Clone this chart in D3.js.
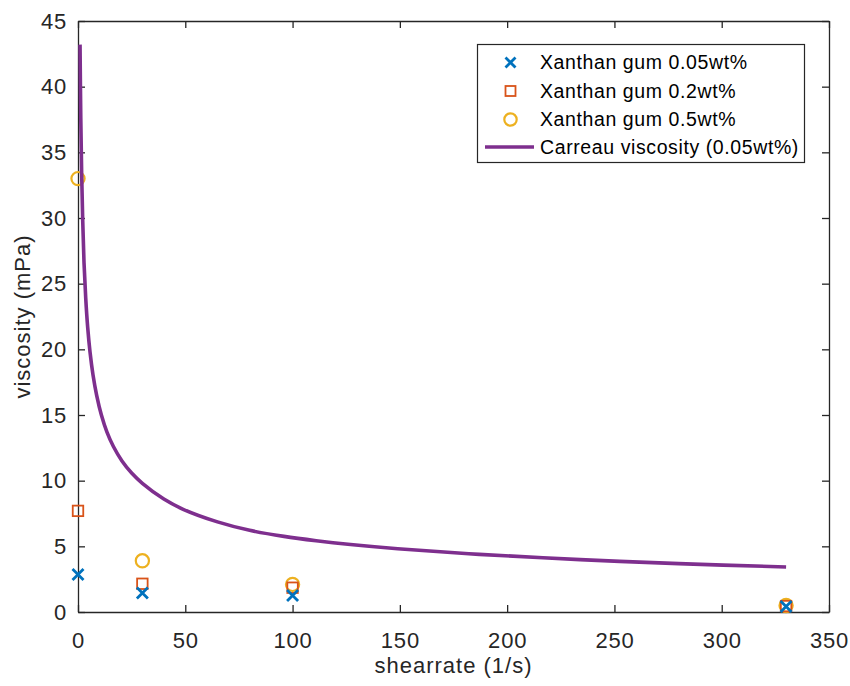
<!DOCTYPE html>
<html>
<head>
<meta charset="utf-8">
<script src="https://cdn.jsdelivr.net/npm/d3@7"></script>
<style>
  html, body { margin: 0; padding: 0; background: #fff; }
  svg { display: block; font-family: "Liberation Sans", Arial, Helvetica, sans-serif; }
</style>
</head>
<body>
<svg id="chart" width="850" height="686"></svg>
<script>
// Measured viscosity at each shear rate (1/s), per xanthan gum concentration
const shearRates = [0, 30, 100, 330];
const visc005 = [2.85, 1.45, 1.25, 0.42];
const visc02  = [7.7, 2.15, 1.85, 0.45];
const visc05  = [33.0, 3.9, 2.1, 0.5];

// Carreau model curve for 0.05wt%: shear rate and viscosity pairs
const carreauRate = [0.95, 1.3, 1.7, 2.2, 2.8, 3.6, 4.5, 5.6, 7.0, 8.7, 10.9, 13.5, 16.5, 20.5, 25, 30, 40, 49, 65, 80, 96, 111, 127, 149, 187, 234, 280, 330];
const carreauVisc = [43.2, 37.6, 33.4, 29.8, 26.6, 23.9, 21.7, 19.8, 18.05, 16.5, 15.0, 13.7, 12.6, 11.5, 10.58, 9.8, 8.6, 7.82, 6.86, 6.22, 5.76, 5.43, 5.14, 4.82, 4.39, 3.99, 3.68, 3.43];

// Axis ticks
const xTicks = [0, 50, 100, 150, 200, 250, 300, 350];
const yTicks = [0, 5, 10, 15, 20, 25, 30, 35, 40, 45];

const seriesNames = ["Xanthan gum 0.05wt%", "Xanthan gum 0.2wt%", "Xanthan gum 0.5wt%", "Carreau viscosity (0.05wt%)"];
const colors = { blue: "#0072BD", orange: "#D95319", yellow: "#EDB120", purple: "#7E2F8E" };
const axisColor = "#262626";

const svg = d3.select("#chart");
const plot = { left: 78, right: 829, top: 21, bottom: 612 };

const x = d3.scaleLinear().domain([0, 350]).range([plot.left, plot.right]);
const y = d3.scaleLinear().domain([0, 45]).range([plot.bottom, plot.top]);

// Axes with inward ticks on all four sides
const tickLen = 7;
function styleAxis(g) {
  g.selectAll("path.domain").attr("stroke", axisColor).attr("stroke-width", 1.3);
  g.selectAll(".tick line").attr("stroke", axisColor).attr("stroke-width", 1.3);
  g.selectAll(".tick text").attr("fill", axisColor)
    .style("font-size", "22px").style("letter-spacing", "0.8px");
}

svg.append("g")
  .attr("transform", `translate(0,${plot.bottom})`)
  .call(d3.axisBottom(x).tickValues(xTicks).tickSize(-tickLen).tickSizeOuter(0).tickPadding(20).tickFormat(d3.format("d")))
  .call(styleAxis);

svg.append("g")
  .attr("transform", `translate(0,${plot.top})`)
  .call(d3.axisTop(x).tickValues(xTicks).tickSize(-tickLen).tickSizeOuter(0).tickFormat(""))
  .call(styleAxis);

svg.append("g")
  .attr("transform", `translate(${plot.left},0)`)
  .call(d3.axisLeft(y).tickValues(yTicks).tickSize(-tickLen).tickSizeOuter(0).tickPadding(11).tickFormat(d3.format("d")))
  .call(styleAxis);

svg.append("g")
  .attr("transform", `translate(${plot.right},0)`)
  .call(d3.axisRight(y).tickValues(yTicks).tickSize(-tickLen).tickSizeOuter(0).tickFormat(""))
  .call(styleAxis);

// Axis titles
svg.append("text")
  .attr("x", (plot.left + plot.right) / 2)
  .attr("y", 673)
  .attr("text-anchor", "middle")
  .attr("fill", axisColor)
  .style("font-size", "22px").style("letter-spacing", "1px")
  .text("shearrate (1/s)");

svg.append("text")
  .attr("transform", `translate(30,${(plot.top + plot.bottom) / 2}) rotate(-90)`)
  .attr("text-anchor", "middle")
  .attr("fill", axisColor)
  .style("font-size", "22px").style("letter-spacing", "1px")
  .text("viscosity (mPa)");

// Marker shapes
function drawCross(g, cx, cy, r, color) {
  g.append("path")
    .attr("d", `M${cx - r},${cy - r}L${cx + r},${cy + r}M${cx - r},${cy + r}L${cx + r},${cy - r}`)
    .attr("stroke", color).attr("stroke-width", 2.8).attr("fill", "none");
}
function drawSquare(g, cx, cy, s, color) {
  g.append("rect")
    .attr("x", cx - s / 2).attr("y", cy - s / 2).attr("width", s).attr("height", s)
    .attr("stroke", color).attr("stroke-width", 1.8).attr("fill", "none");
}
function drawCircle(g, cx, cy, r, color) {
  g.append("circle")
    .attr("cx", cx).attr("cy", cy).attr("r", r)
    .attr("stroke", color).attr("stroke-width", 2.2).attr("fill", "none");
}

const marks = svg.append("g");
shearRates.forEach((s, i) => drawCircle(marks, x(s), y(visc05[i]), 6.6, colors.yellow));
shearRates.forEach((s, i) => drawSquare(marks, x(s), y(visc02[i]), 10.5, colors.orange));
shearRates.forEach((s, i) => drawCross(marks, x(s), y(visc005[i]), 5.5, colors.blue));

// Carreau curve
const carreau = carreauRate.map((r, i) => [r, carreauVisc[i]]);
svg.append("path")
  .datum(carreau)
  .attr("d", d3.line().x(d => x(d[0])).y(d => y(d[1])).curve(d3.curveCatmullRom.alpha(0.5)))
  .attr("fill", "none")
  .attr("stroke", colors.purple)
  .attr("stroke-width", 3.6);

// Legend
const legend = svg.append("g");
legend.append("rect")
  .attr("x", 477.5).attr("y", 44.5).attr("width", 327).attr("height", 118)
  .attr("fill", "#fff").attr("stroke", axisColor).attr("stroke-width", 1.2);

const rowY = [62.5, 91, 119.5, 147];
const markX = 510.5;
drawCross(legend, markX, rowY[0], 5, colors.blue);
drawSquare(legend, markX, rowY[1], 10, colors.orange);
drawCircle(legend, markX, rowY[2], 6.2, colors.yellow);
legend.append("line")
  .attr("x1", 485).attr("x2", 534).attr("y1", rowY[3]).attr("y2", rowY[3])
  .attr("stroke", colors.purple).attr("stroke-width", 3.6);

seriesNames.forEach((name, i) => {
  legend.append("text")
    .attr("x", 540).attr("y", rowY[i]).attr("dy", "0.35em")
    .attr("fill", "#000")
    .style("font-size", "19.5px").style("letter-spacing", "0.6px")
    .text(name);
});
</script>
</body>
</html>
